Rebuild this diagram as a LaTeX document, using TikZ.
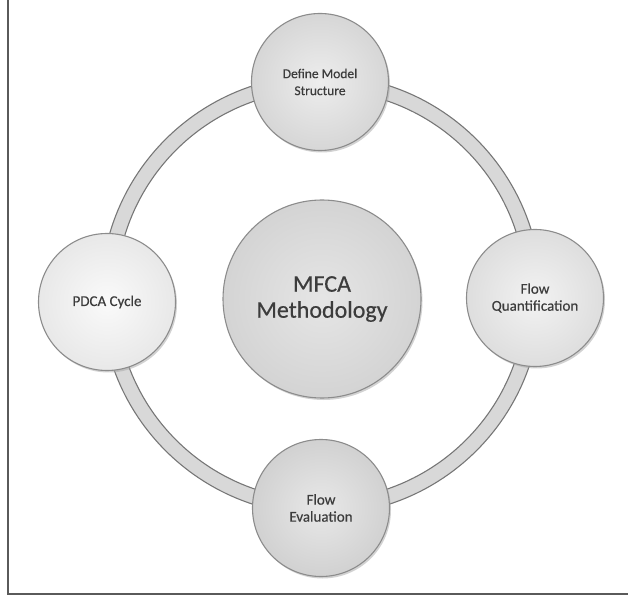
\documentclass[tikz,border=0pt]{standalone}
\usepackage{fontspec}
\setmainfont{Carlito}
\newfontfamily\labelfont{Carlito}[FakeBold=0.4]
\usetikzlibrary{shadows}
\definecolor{framegray}{HTML}{5A5A5A}
\definecolor{ringfill}{HTML}{D8D8D8}
\definecolor{ringedge}{HTML}{777777}
\definecolor{discedge}{HTML}{8C8C8C}
\definecolor{labelgray}{HTML}{3C3C3C}
\begin{document}
\begin{tikzpicture}[x=1pt,y=1pt,
  disc/.style={circle, draw=discedge, line width=1.1pt, inner sep=0pt,
    align=center, text=labelgray, font=\labelfont\fontsize{15}{17}\selectfont,
    drop shadow={shadow xshift=1.5pt, shadow yshift=-2pt, fill=black!35, opacity=0.5}},
  satellite/.style={disc, minimum size=137pt},
  hubdisc/.style={disc, minimum size=198pt, font=\labelfont\fontsize{24}{27}\selectfont,
    inner color=black!10, outer color=black!17}
]
\useasboundingbox (0,0) rectangle (628,597);
\clip (0,0) rectangle (628,597);

% outer frame (right side runs past the page edge)
\draw[framegray, line width=1.4pt] (8,632) rectangle (640,3);

% ring joining the four stages
\coordinate (c) at (321,302);
\fill[ringfill, even odd rule] (c) circle (220) (c) circle (205);
\draw[ringedge, line width=1.1pt] (c) circle (220);
\draw[ringedge, line width=1.1pt] (c) circle (205);

% central disc
\node[hubdisc] (hub) at (322,298) {MFCA\\[-1pt]Methodology};

% stage discs
\node[satellite, inner color=black!7, outer color=black!16,
  font=\labelfont\fontsize{13.5}{17}\selectfont] (define) at (320,515) {Define Model\\Structure};
\node[satellite, inner color=black!2, outer color=black!9] (pdca) at (107,295) {PDCA Cycle};
\node[satellite, inner color=black!5, outer color=black!13] (quant) at (535,299) {Flow\\Quantification};
\node[satellite, inner color=black!9, outer color=black!18] (eval) at (321,89) {Flow\\Evaluation};
\end{tikzpicture}
\end{document}
